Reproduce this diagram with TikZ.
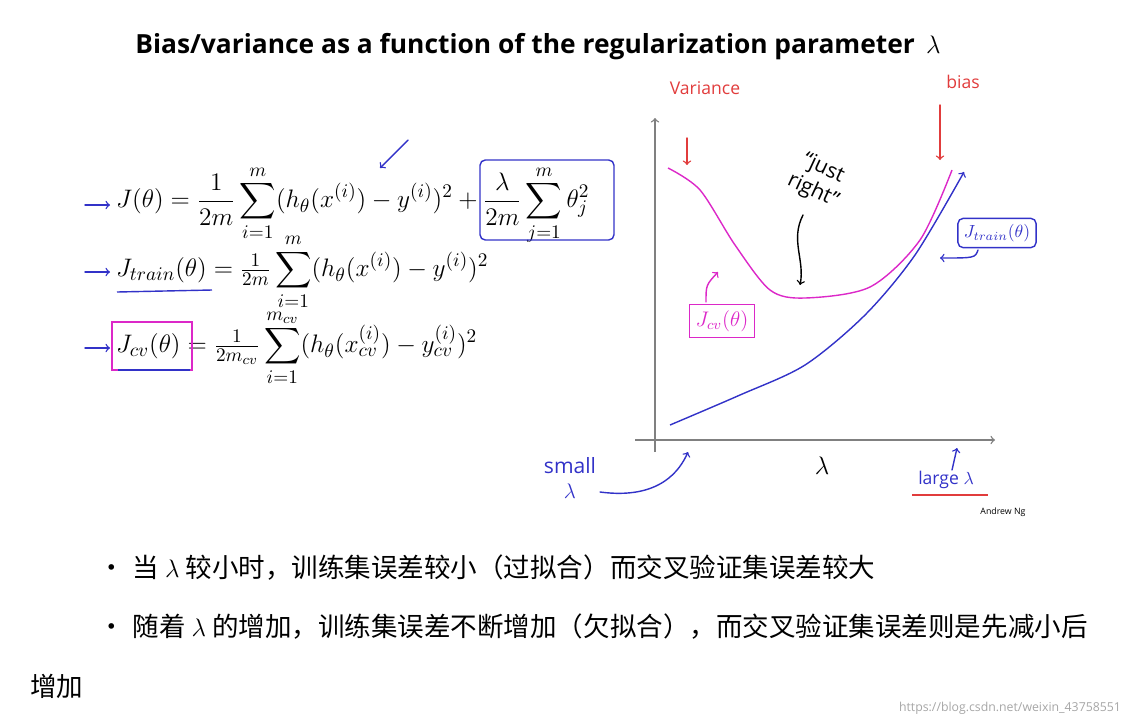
\documentclass[tikz,border=0pt]{standalone}
\usepackage{amsmath}
\usepackage{fontspec}
\setsansfont{Open Sans}
\newfontfamily\cjk{Noto Sans CJK SC}
\usetikzlibrary{positioning}
\definecolor{penblue}{RGB}{50,50,200}
\definecolor{penpink}{RGB}{220,40,200}
\definecolor{penred}{RGB}{225,60,60}
\tikzset{
  hand/.style={font=\sffamily},
  penarrow/.style={->,thick,line cap=round},
  eqline/.style={anchor=west,font=\fontsize{15.5}{18}\selectfont},
  bullet/.style={anchor=west,font=\cjk\fontsize{15.1}{18}\selectfont},
}
\begin{document}
\begin{tikzpicture}[x=0.02cm,y=-0.02cm]
\useasboundingbox (0,0) rectangle (1124,727);

% Title
\node[font=\sffamily\bfseries\fontsize{15}{17}\selectfont] (title) at (538,47)
  {Bias/variance as a function of the regularization parameter \,$\lambda$};

% Formulas
\node[eqline] (eqJ) at (110,205)
  {$J(\theta)=\dfrac{1}{2m}\displaystyle\sum_{i=1}^{m}(h_\theta(x^{(i)})-y^{(i)})^2+\dfrac{\lambda}{2m}\displaystyle\sum_{j=1}^{m}\theta_j^2$};
\node[eqline] (eqTr) at (110,272)
  {$J_{train}(\theta)=\frac{1}{2m}\displaystyle\sum_{i=1}^{m}(h_\theta(x^{(i)})-y^{(i)})^2$};
\node[eqline] (eqCv) at (110,348)
  {$J_{cv}(\theta)=\frac{1}{2m_{cv}}\displaystyle\sum_{i=1}^{m_{cv}}(h_\theta(x^{(i)}_{cv})-y^{(i)}_{cv})^2$};
\foreach \yy in {205,272,348}
  \draw[penarrow,penblue] (85,\yy) -- (110,\yy);
\draw[penblue,thick,rounded corners=3] (480,160) rectangle (614,240);
\draw[penarrow,penblue] (408,140) -- (380,168);
\draw[penblue,thick] (117,292) -- (212,290);
\draw[penpink,thick] (112,322) rectangle (192,370);
\draw[penblue,thick] (118,370) -- (190,370);

% Axes
\draw[->,gray,thick] (655,452) -- (655,118);
\draw[->,gray,thick] (635,440) -- (995,440);
\node[font=\Large] (lam) at (822,466) {$\lambda$};

% Curves
\draw[penpink,thick] plot[smooth] coordinates
  {(668,168) (700,190) (735,245) (770,290) (805,298) (870,287) (920,240) (952,170)};
\draw[penblue,thick,->] plot[smooth] coordinates
  {(670,425) (740,395) (805,365) (865,315) (915,255) (964,172)};

% Handwritten labels
\node[hand,penred] (var) at (705,88) {Variance};
\node[hand,penred] (bias) at (963,82) {bias};
\draw[penarrow,penred] (687,138) -- (687,165);
\draw[penarrow,penred] (940,105) -- (940,160);
\node[hand,rotate=-25,align=center,font=\sffamily\large] (right) at (818,180) {``just\\ right''};
\draw[penarrow] (803,215) .. controls (790,240) and (805,260) .. (800,285);
\node[penpink,draw=penpink,thick,font=\large] (jcv) at (722,321) {$J_{cv}(\theta)$};
\draw[penarrow,penpink] (706,302) .. controls (706,285) .. (718,272);
\node[penblue,draw=penblue,thick,rounded corners=3] (jtr) at (997,233) {$J_{train}(\theta)$};
\draw[penarrow,penblue] (978,250) .. controls (975,258) .. (940,258);
\node[hand,penblue,align=center,font=\sffamily\large] (small) at (570,478) {small\\ $\lambda$};
\draw[penarrow,penblue] (600,492) .. controls (660,500) and (680,470) .. (688,452);
\node[hand,penblue] (large) at (946,480) {large $\lambda$};
\draw[penred,thick] (912,495) -- (988,495);
\draw[penarrow,penblue] (952,470) -- (957,448);
\node[font=\sffamily\tiny] (ng) at (1003,512) {Andrew Ng};

% Notes below
\node[bullet] (b1) at (92,568) {\textbullet\hspace{0.3em}当 $\lambda$ 较小时，训练集误差较小（过拟合）而交叉验证集误差较大};
\node[bullet] (b2) at (92,627) {\textbullet\hspace{0.3em}随着 $\lambda$ 的增加，训练集误差不断增加（欠拟合），而交叉验证集误差则是先减小后};
\node[bullet] (b3) at (24,686) {增加};
\node[font=\sffamily\scriptsize,gray!70] (wm) at (1010,708) {https://blog.csdn.net/weixin\_43758551};
\end{tikzpicture}
\end{document}
